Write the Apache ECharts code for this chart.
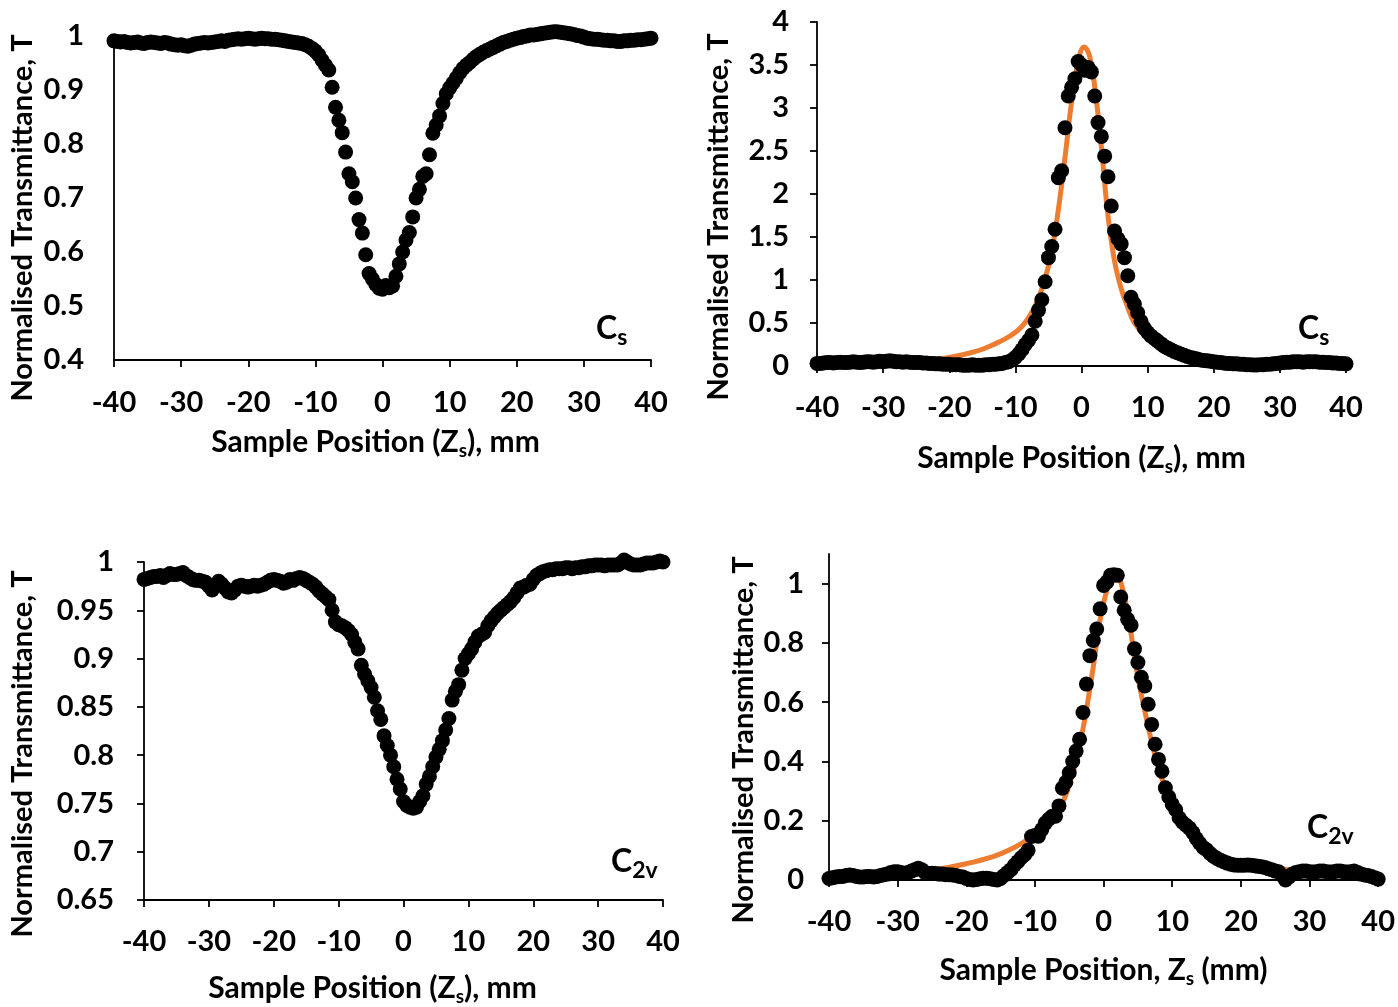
<!DOCTYPE html>
<html><head><meta charset="utf-8">
<script src="https://cdn.jsdelivr.net/npm/echarts@6/dist/echarts.min.js"></script>
<style>html,body{margin:0;padding:0;background:#fff}#c{width:1398px;height:1007px}</style>
</head><body><div id="c"></div>
<script>
// Sample positions (mm)
const positions = [
 -40,-39.5,-39,-38.5,-38,-37.5,-37,-36.5,-36,-35.5,
 -35,-34.5,-34,-33.5,-33,-32.5,-32,-31.5,-31,-30.5,
 -30,-29.5,-29,-28.5,-28,-27.5,-27,-26.5,-26,-25.5,
 -25,-24.5,-24,-23.5,-23,-22.5,-22,-21.5,-21,-20.5,
 -20,-19.5,-19,-18.5,-18,-17.5,-17,-16.5,-16,-15.5,
 -15,-14.5,-14,-13.5,-13,-12.5,-12,-11.5,-11,-10.5,
 -10,-9.5,-9,-8.5,-8,-7.5,-7,-6.5,-6,-5.5,
 -5,-4.5,-4,-3.5,-3,-2.5,-2,-1.5,-1,-0.5,
 0,0.5,1,1.5,2,2.5,3,3.5,4,4.5,
 5,5.5,6,6.5,7,7.5,8,8.5,9,9.5,
 10,10.5,11,11.5,12,12.5,13,13.5,14,14.5,
 15,15.5,16,16.5,17,17.5,18,18.5,19,19.5,
 20,20.5,21,21.5,22,22.5,23,23.5,24,24.5,
 25,25.5,26,26.5,27,27.5,28,28.5,29,29.5,
 30,30.5,31,31.5,32,32.5,33,33.5,34,34.5,
 35,35.5,36,36.5,37,37.5,38,38.5,39,39.5,
 40
];
// Cs, open aperture (top-left)
const csOpen = [
 0.991,0.990,0.989,0.990,0.988,0.987,0.988,0.989,0.987,0.986,
 0.988,0.989,0.988,0.987,0.986,0.988,0.987,0.985,0.984,0.983,
 0.984,0.982,0.981,0.983,0.985,0.986,0.987,0.988,0.987,0.988,
 0.989,0.990,0.991,0.990,0.992,0.993,0.994,0.995,0.994,0.995,
 0.996,0.995,0.994,0.995,0.996,0.995,0.995,0.994,0.994,0.993,
 0.992,0.991,0.990,0.989,0.988,0.987,0.986,0.984,0.981,0.977,
 0.972,0.965,0.955,0.946,0.937,0.905,0.868,0.844,0.821,0.785,
 0.745,0.730,0.700,0.660,0.635,0.595,0.560,0.550,0.540,0.533,
 0.531,0.538,0.534,0.537,0.555,0.578,0.600,0.622,0.636,0.665,
 0.700,0.716,0.740,0.745,0.780,0.820,0.835,0.852,0.875,0.893,
 0.904,0.913,0.922,0.932,0.940,0.946,0.951,0.957,0.962,0.966,
 0.970,0.973,0.976,0.979,0.982,0.985,0.988,0.990,0.992,0.994,
 0.996,0.997,0.999,1.000,1.002,1.002,1.003,1.004,1.005,1.006,
 1.007,1.008,1.008,1.007,1.006,1.005,1.004,1.003,1.001,1.000,
 0.998,0.996,0.995,0.994,0.994,0.993,0.992,0.992,0.991,0.991,
 0.990,0.990,0.991,0.991,0.992,0.992,0.993,0.993,0.994,0.995,
 0.996
];
// Cs, closed aperture (top-right)
const csClosed = [
 0.03,0.03,0.035,0.04,0.04,0.035,0.04,0.045,0.04,0.04,
 0.045,0.05,0.045,0.04,0.045,0.05,0.05,0.045,0.05,0.055,
 0.05,0.055,0.06,0.055,0.05,0.05,0.045,0.05,0.045,0.04,
 0.04,0.04,0.035,0.035,0.03,0.03,0.025,0.025,0.02,0.02,
 0.02,0.015,0.015,0.015,0.01,0.01,0.01,0.015,0.01,0.01,
 0.01,0.015,0.015,0.02,0.02,0.025,0.03,0.04,0.05,0.07,
 0.10,0.14,0.19,0.25,0.30,0.36,0.52,0.65,0.77,0.98,
 1.26,1.39,1.59,2.19,2.27,2.77,3.14,3.24,3.34,3.54,
 3.50,3.44,3.47,3.42,3.14,2.83,2.67,2.44,2.20,1.86,
 1.57,1.48,1.42,1.26,1.05,0.80,0.72,0.62,0.52,0.44,
 0.39,0.35,0.32,0.29,0.26,0.23,0.21,0.19,0.17,0.155,
 0.14,0.125,0.11,0.10,0.09,0.08,0.07,0.065,0.06,0.055,
 0.05,0.045,0.04,0.035,0.03,0.03,0.025,0.025,0.02,0.02,
 0.015,0.015,0.012,0.012,0.015,0.015,0.02,0.02,0.025,0.03,
 0.035,0.04,0.045,0.045,0.05,0.05,0.05,0.045,0.05,0.05,
 0.05,0.05,0.045,0.045,0.04,0.04,0.035,0.035,0.03,0.03,
 0.025
];
const csFitX = [-40,-35,-30,-25,-20,-16,-13,-11,-9,-7,-5.5,-4.5,-3.5,-2.5,-1.5,-0.5,0.4,1.2,2,3,4,5,6,7,8,10,12,14,17,20,25,30,35,40];
const csFitY = [0.02,0.025,0.035,0.05,0.1,0.17,0.26,0.34,0.46,0.7,1.02,1.33,1.82,2.42,3.07,3.55,3.71,3.61,3.25,2.55,1.75,1.22,0.9,0.68,0.5,0.32,0.21,0.155,0.1,0.07,0.045,0.03,0.025,0.02];
// C2v, open aperture (bottom-left)
const c2vOpen = [
 0.982,0.983,0.984,0.985,0.985,0.986,0.984,0.986,0.988,0.987,
 0.987,0.988,0.989,0.986,0.984,0.982,0.981,0.981,0.980,0.979,
 0.975,0.971,0.976,0.980,0.977,0.973,0.969,0.968,0.971,0.975,
 0.976,0.975,0.974,0.975,0.976,0.975,0.976,0.977,0.979,0.981,
 0.982,0.981,0.980,0.978,0.979,0.982,0.981,0.983,0.984,0.983,
 0.981,0.979,0.977,0.974,0.970,0.967,0.964,0.961,0.950,0.938,
 0.935,0.934,0.932,0.929,0.925,0.917,0.910,0.893,0.884,0.877,
 0.870,0.860,0.846,0.837,0.820,0.810,0.800,0.788,0.775,0.765,
 0.752,0.748,0.746,0.745,0.746,0.752,0.758,0.770,0.778,0.788,
 0.798,0.806,0.815,0.826,0.838,0.857,0.866,0.873,0.888,0.900,
 0.905,0.910,0.917,0.923,0.925,0.927,0.934,0.939,0.943,0.947,
 0.950,0.953,0.956,0.959,0.963,0.968,0.973,0.974,0.976,0.977,
 0.982,0.986,0.988,0.990,0.991,0.992,0.992,0.993,0.993,0.993,
 0.994,0.994,0.993,0.994,0.994,0.995,0.995,0.996,0.996,0.997,
 0.997,0.997,0.996,0.997,0.997,0.997,0.997,0.999,1.002,1.000,
 0.998,0.997,0.997,0.997,0.998,0.999,0.999,0.999,1.000,1.001,
 1.000
];
// C2v, closed aperture (bottom-right)
const c2vClosed = [
 0.005,0.008,0.01,0.012,0.012,0.015,0.017,0.015,0.012,0.01,
 0.01,0.012,0.012,0.01,0.012,0.015,0.018,0.02,0.025,0.028,
 0.028,0.025,0.022,0.025,0.03,0.035,0.04,0.035,0.025,0.022,
 0.023,0.022,0.02,0.02,0.018,0.018,0.017,0.015,0.012,0.01,
 0.005,0.002,0.0,0.002,0.004,0.006,0.006,0.004,0.002,0.0,
 0.005,0.015,0.025,0.035,0.05,0.062,0.075,0.085,0.10,0.147,
 0.15,0.148,0.17,0.192,0.205,0.215,0.215,0.25,0.31,0.33,
 0.362,0.40,0.435,0.475,0.565,0.661,0.757,0.808,0.847,0.915,
 0.994,1.006,1.028,1.03,1.028,0.955,0.91,0.88,0.86,0.78,
 0.734,0.684,0.655,0.593,0.525,0.458,0.407,0.367,0.311,0.28,
 0.255,0.237,0.21,0.195,0.185,0.175,0.16,0.14,0.124,0.11,
 0.102,0.09,0.08,0.073,0.067,0.062,0.057,0.053,0.051,0.05,
 0.05,0.05,0.051,0.05,0.048,0.046,0.045,0.042,0.038,0.035,
 0.03,0.028,0.015,0.0,0.01,0.02,0.025,0.028,0.03,0.03,
 0.028,0.027,0.028,0.03,0.03,0.028,0.027,0.028,0.03,0.03,
 0.028,0.027,0.028,0.03,0.025,0.02,0.017,0.015,0.012,0.008,
 0.003
];
const c2vFitX = [-40,-35,-30,-25,-20,-16,-13,-10.5,-8,-6,-4.5,-3,-1.5,-0.5,0.5,1.3,2,2.8,3.8,4.8,6,7.5,9,11,14,17,21,25,30,35,40];
const c2vFitY = [0.006,0.012,0.018,0.033,0.055,0.08,0.11,0.145,0.19,0.26,0.36,0.51,0.72,0.88,0.98,1.02,1.02,0.98,0.86,0.71,0.57,0.42,0.31,0.21,0.125,0.083,0.055,0.04,0.028,0.022,0.017];
const c2vClosedTicks = [0, 0.2, 0.4, 0.6, 0.8, 1];

const FONT = 'Lato, "Open Sans", "DejaVu Sans", sans-serif';
const BLACK = '#000';
const ORANGE = '#ED7D31';
const LABEL_SIZE = 29;
const TITLE_SIZE = 30;
function pairs(xs, ys) { return xs.map((x, i) => [x, ys[i]]); }

const subStyle = { fontFamily: FONT, fontWeight: 'bold', fontSize: 19, color: BLACK, padding: [17, 0, 0, 0] };

function xAxisCfg(gi, name, nameGap, labelMargin, namePad) {
  return {
    gridIndex: gi, type: 'value', min: -40, max: 40, interval: 10,
    axisLine: { show: true, onZero: false, lineStyle: { color: BLACK, width: 1.8 } },
    axisTick: { show: true, length: 7, lineStyle: { color: BLACK, width: 1.8 } },
    axisLabel: { color: BLACK, fontFamily: FONT, fontWeight: 'bold', fontSize: LABEL_SIZE, margin: labelMargin },
    splitLine: { show: false },
    name: name, nameLocation: 'middle', nameGap: nameGap,
    nameTextStyle: { color: BLACK, fontFamily: FONT, fontWeight: 'bold', fontSize: TITLE_SIZE, padding: namePad, rich: { s: subStyle } }
  };
}
function yAxisCfg(gi, min, max, interval, o) {
  const ax = {
    gridIndex: gi, type: 'value', min: min, max: max, interval: interval,
    axisLine: { show: true, onZero: false, lineStyle: { color: BLACK, width: 1.8 } },
    axisTick: { show: o.ticks, length: 7, lineStyle: { color: BLACK, width: 1.8 } },
    axisLabel: { color: BLACK, fontFamily: FONT, fontWeight: 'bold', fontSize: LABEL_SIZE, margin: o.labelMargin },
    splitLine: { show: false },
    name: 'Normalised Transmittance, T', nameLocation: 'middle', nameGap: o.nameGap,
    nameTextStyle: { color: BLACK, fontFamily: FONT, fontWeight: 'bold', fontSize: LABEL_SIZE, padding: o.namePad }
  };
  if (o.customTicks) {
    ax.axisLabel.customValues = o.customTicks;
    ax.axisTick.customValues = o.customTicks;
  }
  return ax;
}
function scatter(gi, ys) {
  return { type: 'scatter', xAxisIndex: gi, yAxisIndex: gi, data: pairs(positions, ys),
    symbol: 'circle', symbolSize: 15, itemStyle: { color: BLACK, opacity: 1 }, clip: false, z: 3, silent: true };
}
function fit(gi, xs, ys) {
  return { type: 'line', xAxisIndex: gi, yAxisIndex: gi, data: pairs(xs, ys), smooth: 0.4,
    showSymbol: false, lineStyle: { color: ORANGE, width: 5 }, z: 2, silent: true };
}
function label(left, top, sub) {
  return { type: 'text', left: left, top: top, z: 10, style: {
    text: '{c|C}{s|' + sub + '}',
    rich: {
      c: { fontFamily: FONT, fontWeight: 'bold', fontSize: 32, color: BLACK },
      s: { fontFamily: FONT, fontWeight: 'bold', fontSize: 23, color: BLACK, padding: [18, 0, 0, 0] }
    } } };
}

const chart = echarts.init(document.getElementById('c'), null, { renderer: 'canvas' });
chart.setOption({
  animation: false,
  backgroundColor: '#fff',
  grid: [
    { left: 114, top: 36, width: 537, height: 324 },
    { left: 817, top: 22, width: 529, height: 344 },
    { left: 144, top: 562, width: 519, height: 340 },
    { left: 829, top: 554, width: 555, height: 326 }
  ],
  xAxis: [
    xAxisCfg(0, 'Sample Position (Z{s|s}), mm', 64, 28, [0, 14, 0, 0]),
    xAxisCfg(1, 'Sample Position (Z{s|s}), mm', 74, 27, [0, 0, 0, 0]),
    xAxisCfg(2, 'Sample Position (Z{s|s}), mm', 70, 27, [0, 62, 0, 0]),
    xAxisCfg(3, 'Sample Position, Z{s|s} (mm)', 72, 27, [0, 0, 0, 0])
  ],
  yAxis: [
    yAxisCfg(0, 0.4, 1, 0.1, { ticks: false, labelMargin: 30, nameGap: 77, namePad: [0, 40, 0, 0] }),
    yAxisCfg(1, 0, 4, 0.5, { ticks: true, labelMargin: 28, nameGap: 84, namePad: [0, 46, 0, 0] }),
    yAxisCfg(2, 0.65, 1, 0.05, { ticks: true, labelMargin: 30, nameGap: 107, namePad: [0, 46, 0, 0] }),
    yAxisCfg(3, 0, 1.1, 0.2, { ticks: true, labelMargin: 25, nameGap: 71, namePad: [0, 46, 0, 0], customTicks: c2vClosedTicks })
  ],
  graphic: [
    label(596, 313, 's'),
    label(1298, 313, 's'),
    label(611, 846, '2v'),
    label(1307, 812, '2v')
  ],
  series: [
    scatter(0, csOpen),
    fit(1, csFitX, csFitY),
    scatter(1, csClosed),
    scatter(2, c2vOpen),
    fit(3, c2vFitX, c2vFitY),
    scatter(3, c2vClosed)
  ]
});
</script>
</body></html>
